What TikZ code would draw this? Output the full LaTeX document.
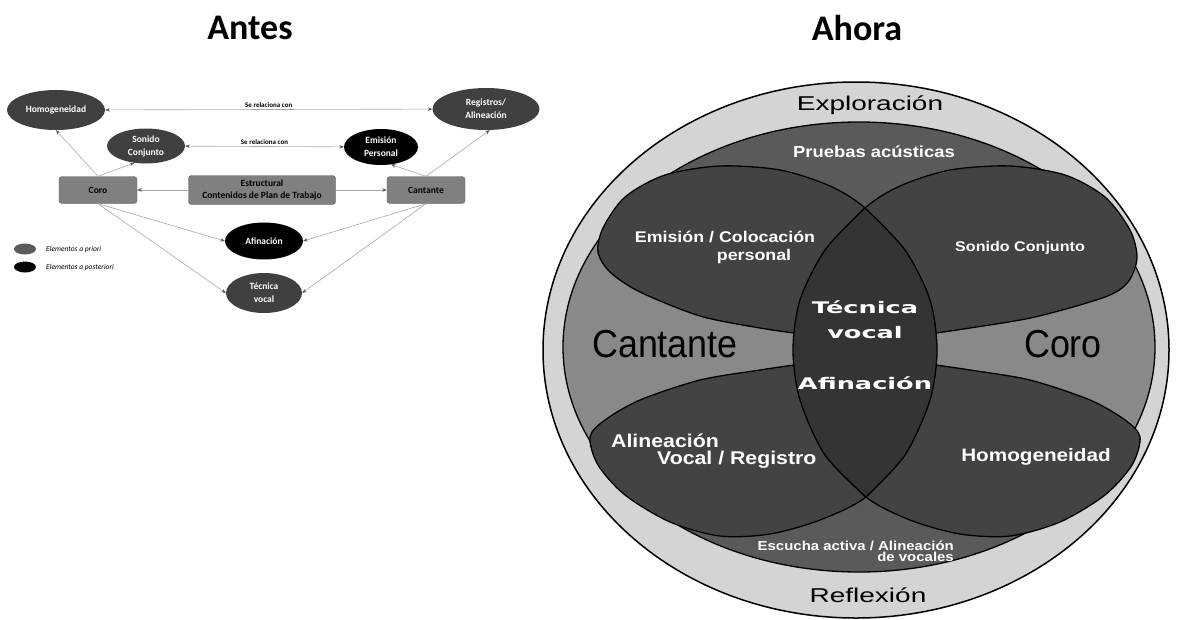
\documentclass[tikz,border=0pt]{standalone}
\usepackage{fontspec}
\setmainfont{Carlito}
\newfontfamily\lobefont[FakeStretch=1.15]{Liberation Sans}
\newfontfamily\widefont[FakeStretch=1.4]{Liberation Sans}
\newfontfamily\narrowfont[FakeStretch=0.92]{Liberation Sans}
\newfontfamily\blackfont[FakeStretch=1.6]{DejaVu Sans}
\usetikzlibrary{shapes.geometric,arrows.meta}

\definecolor{nodegray}{HTML}{404040}
\definecolor{boxgray}{HTML}{808080}
\definecolor{boxline}{HTML}{5A5A5A}
\definecolor{linegray}{HTML}{A8A8A8}
\definecolor{tipgray}{HTML}{555555}
\definecolor{ringgray}{HTML}{D4D4D4}
\definecolor{midgray}{HTML}{8A8888}
\definecolor{capgray}{HTML}{5A5A5A}
\definecolor{lobegray}{HTML}{434343}
\definecolor{lensgray}{HTML}{343434}

\begin{document}
\begin{tikzpicture}[x=1pt,y=-1pt,
    title/.style={font=\bfseries\fontsize{36}{40}\selectfont},
    apriori/.style={ellipse, fill=nodegray, text=white, inner sep=0pt, align=center,
      font=\bfseries\fontsize{9.5}{13}\selectfont},
    aposteriori/.style={apriori, fill=black},
    box/.style={rectangle, rounded corners=3pt, fill=boxgray, draw=boxline, inner sep=0pt,
      minimum width=78pt, minimum height=27pt, align=center,
      font=\bfseries\fontsize{9.5}{12}\selectfont},
    link/.style={draw=linegray, line width=0.6pt, -{Stealth[length=4.5pt,width=3.5pt,color=tipgray]}},
    relation/.style={link, {Stealth[length=4.5pt,width=3.5pt,color=tipgray]}-{Stealth[length=4.5pt,width=3.5pt,color=tipgray]}},
    relabel/.style={font=\bfseries\fontsize{7}{8}\selectfont, inner sep=2pt},
    legend/.style={font=\itshape\fontsize{7.5}{9}\selectfont, inner sep=0pt},
    lobe/.style={fill=lobegray, draw=black, line width=1.3pt},
    lobetext/.style={text=white, inner sep=0pt, font=\lobefont\bfseries\fontsize{15.5}{18}\selectfont},
    lenstext/.style={text=white, inner sep=0pt, font=\blackfont\bfseries\fontsize{16}{25}\selectfont},
    sidetext/.style={inner sep=0pt, font=\narrowfont\fontsize{39}{42}\selectfont},
    ringtext/.style={inner sep=0pt, font=\widefont\fontsize{20}{22}\selectfont}]
  \useasboundingbox (0,0) rectangle (1181,619);

  % Antes
  \node[title] (antes) at (250,28) {Antes};
  \node[apriori, minimum width=98pt, minimum height=40pt] (homog) at (56,110) {Homogeneidad};
  \node[apriori, minimum width=107pt, minimum height=42pt] (registros) at (486,109) {Registros/\\Alineación};
  \node[apriori, minimum width=78pt, minimum height=35pt] (sonido) at (146,146) {Sonido\\Conjunto};
  \node[aposteriori, minimum width=74pt, minimum height=36pt] (emision) at (381,147) {Emisión\\Personal};
  \node[box] (coro) at (98,190) {Coro};
  \node[box, minimum width=147pt, minimum height=29pt] (estructural) at (262,190) {Estructural\\Contenidos de Plan de Trabajo};
  \node[box] (cantante) at (426,190) {Cantante};
  \node[aposteriori, minimum width=78pt, minimum height=37pt] (afinacion) at (264,241) {Afinación};
  \node[apriori, minimum width=76pt, minimum height=40pt] (tecnica) at (264,293) {Técnica\\vocal};

  \draw[relation] (homog) -- node[relabel, above] {Se relaciona con} (registros);
  \draw[relation] (sonido) -- node[relabel, above] {Se relaciona con} (emision);
  \draw[link] (coro.north) -- (homog.south);
  \draw[link] (coro.north) -- (sonido.235);
  \draw[link] (cantante.north) -- (emision.300);
  \draw[link] (cantante.north) -- (registros.280);
  \draw[link] (estructural) -- (coro);
  \draw[link] (estructural) -- (cantante);
  \draw[link] (coro.south) -- (afinacion.west);
  \draw[link] (coro.south) -- (tecnica.west);
  \draw[link] (cantante.south) -- (afinacion.east);
  \draw[link] (cantante.south) -- (tecnica.east);

  \node[ellipse, fill=capgray, minimum width=22pt, minimum height=11pt, inner sep=0pt] (mprior) at (25,249) {};
  \node[ellipse, fill=black, minimum width=22pt, minimum height=11pt, inner sep=0pt] (mposterior) at (25,267) {};
  \node[legend, anchor=west] (lprior) at (46,249) {Elementos a priori};
  \node[legend, anchor=west] (lposterior) at (46,267) {Elementos a posteriori};

  % Ahora
  \node[title] (ahora) at (857,28) {Ahora};
  \draw[line width=1.5pt, fill=ringgray] (856,350) ellipse [x radius=313, y radius=268];
  \fill[midgray] (859,347) ellipse [x radius=296, y radius=225];
  \begin{scope}
    \clip (859,347) ellipse [x radius=296, y radius=225];
    \fill[capgray] (865,120) ellipse [x radius=290, y radius=170];
    \fill[capgray] (865,584) ellipse [x radius=290, y radius=170];
  \end{scope}
  \draw[line width=1.3pt] (859,347) ellipse [x radius=296, y radius=225];

  \filldraw[lobe] plot[smooth] coordinates {(930,335) (922,290) (900,248) (865,208) (830,186)
    (780,170) (720,166) (665,175) (625,197) (603,228) (598,252) (610,272) (640,292) (700,316)
    (760,328) (794,333)} -- cycle;
  \filldraw[lobe] plot[smooth] coordinates {(800,335) (808,290) (830,248) (865,208) (900,186)
    (950,170) (1010,166) (1065,175) (1105,197) (1130,230) (1137,258) (1128,282) (1105,297)
    (1035,317) (970,328) (936,333)} -- cycle;
  \filldraw[lobe] plot[smooth] coordinates {(794,365) (760,370) (700,380) (640,400) (605,420)
    (590,437) (598,465) (625,495) (670,522) (720,536) (770,534) (820,520) (866,497)
    (900,456) (922,410) (930,365)} -- cycle;
  \filldraw[lobe] plot[smooth] coordinates {(936,365) (970,370) (1030,380) (1090,400) (1125,420)
    (1140,437) (1132,465) (1105,495) (1060,522) (1010,536) (960,534) (910,520) (866,497)
    (832,456) (808,410) (800,365)} -- cycle;
  \filldraw[lobe, fill=lensgray] plot[smooth] coordinates {(865,208) (825,250) (800,300) (793,350)
    (800,400) (825,455) (866,497)} -- plot[smooth] coordinates {(866,497) (905,455) (930,400)
    (937,350) (930,300) (905,250) (865,208)} -- cycle;

  \node[ringtext] (exploracion) at (870,105) {Exploración};
  \node[ringtext] (reflexion) at (868,595) {Reflexión};
  \node[lobetext, font=\lobefont\bfseries\fontsize{16}{18}\selectfont] (pruebas) at (874,152) {Pruebas acústicas};
  \node[lobetext, align=center] (emisionlobe) at (725,247) {Emisión / Colocación\\\hspace*{58pt}personal};
  \node[lobetext, font=\lobefont\bfseries\fontsize{14}{16}\selectfont] (sonidolobe) at (1020,248) {Sonido Conjunto};
  \node[lenstext, align=center] (tecnicalobe) at (865,320) {Técnica\\vocal};
  \node[lenstext] (afinacionlobe) at (865,383) {Afinación};
  \node[sidetext] (cantantelobe) at (665,344) {Cantante};
  \node[sidetext] (corolobe) at (1063,344) {Coro};
  \node[lobetext, align=left, anchor=west, font=\lobefont\bfseries\fontsize{18.5}{17}\selectfont]
    (alineacionlobe) at (611,451) {Alineación\\\hspace*{46pt}Vocal / Registro};
  \node[lobetext, font=\lobefont\bfseries\fontsize{18}{20}\selectfont] (homoglobe) at (1036,457) {Homogeneidad};
  \node[lobetext, align=right, anchor=east, font=\lobefont\bfseries\fontsize{13}{11}\selectfont]
    (escucha) at (954,551) {Escucha activa / Alineación\\de vocales};
\end{tikzpicture}
\end{document}
